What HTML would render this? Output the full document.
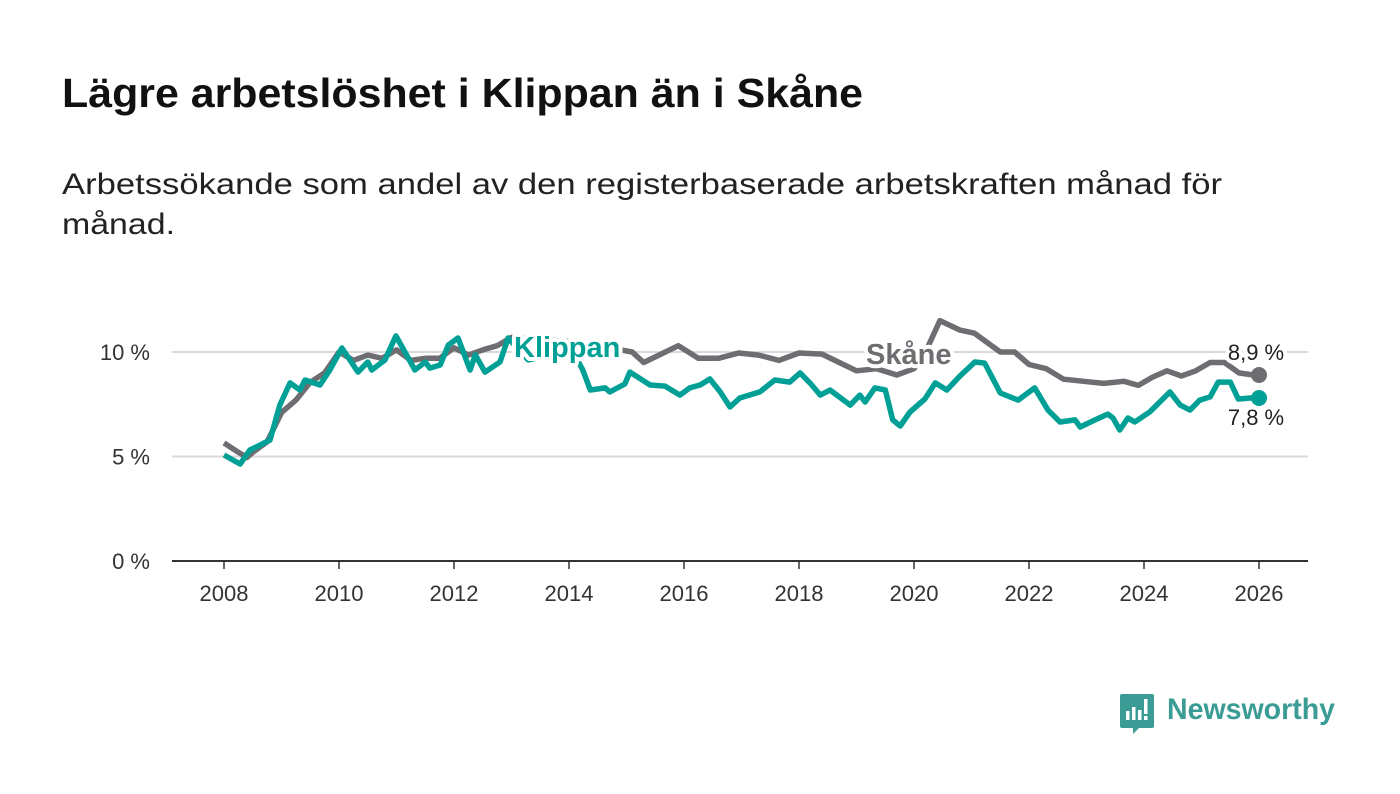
<!DOCTYPE html>
<html><head><meta charset="utf-8"><style>
html,body{margin:0;padding:0;background:#fff;}
svg{display:block;font-family:"Liberation Sans",sans-serif;}
</style></head><body>
<svg id="chart" width="1400" height="794" viewBox="0 0 1400 794">
<text x="62" y="107" font-size="41" font-weight="bold" fill="#111" textLength="801" lengthAdjust="spacingAndGlyphs">Lägre arbetslöshet i Klippan än i Skåne</text>
<text x="62" y="194" font-size="30" fill="#222" textLength="1160" lengthAdjust="spacingAndGlyphs">Arbetssökande som andel av den registerbaserade arbetskraften månad för</text>
<text x="62" y="234" font-size="30" fill="#222" textLength="113" lengthAdjust="spacingAndGlyphs">månad.</text>
<g id="grid"></g>
<g id="yticks"></g>
<g id="xticks"></g>
<g id="series"></g>
<g id="labels"></g>
<g>
<path d="M1122 694 h30 a2 2 0 0 1 2 2 v30 a2 2 0 0 1 -2 2 h-13 l-6 6 v-6 h-11 a2 2 0 0 1 -2 -2 v-30 a2 2 0 0 1 2 -2z" fill="#3a9c94"/>
<rect x="1126" y="711" width="3.5" height="9" fill="#fff"/><rect x="1132" y="707" width="3.5" height="13" fill="#fff"/><rect x="1138" y="710" width="3.5" height="10" fill="#fff"/><rect x="1144" y="699" width="3.5" height="15" fill="#fff"/><rect x="1144" y="716" width="3.5" height="4" fill="#fff"/>
<text x="1167" y="719" font-size="30" font-weight="bold" fill="#3a9c94" textLength="168" lengthAdjust="spacingAndGlyphs">Newsworthy</text>
</g>
</svg>
<script>
const yTicks=[0,5,10];
const yTickLabels=["0 %","5 %","10 %"];
const xTicks=[2008,2010,2012,2014,2016,2018,2020,2022,2024,2026];
const klippanYears=[2008.00,2008.28,2008.45,2008.63,2008.80,2008.97,2009.15,2009.32,2009.41,2009.67,2009.84,2010.05,2010.33,2010.50,2010.57,2010.80,2010.99,2011.32,2011.50,2011.58,2011.76,2011.90,2012.07,2012.28,2012.37,2012.54,2012.80,2012.94,2013.29,2013.67,2014.10,2014.24,2014.37,2014.63,2014.71,2014.97,2015.06,2015.41,2015.67,2015.93,2016.10,2016.28,2016.45,2016.63,2016.80,2016.97,2017.32,2017.58,2017.84,2018.02,2018.19,2018.37,2018.54,2018.89,2019.06,2019.15,2019.32,2019.50,2019.63,2019.76,2019.93,2020.19,2020.37,2020.57,2020.80,2021.06,2021.23,2021.50,2021.81,2022.10,2022.33,2022.54,2022.80,2022.89,2023.15,2023.37,2023.46,2023.58,2023.72,2023.84,2024.10,2024.45,2024.63,2024.80,2024.97,2025.15,2025.29,2025.50,2025.64,2025.85,2026.00];
const klippanValues=[5.07,4.64,5.31,5.55,5.79,7.46,8.52,8.18,8.66,8.42,9.14,10.19,9.04,9.52,9.14,9.62,10.77,9.14,9.52,9.23,9.38,10.33,10.67,9.14,9.86,9.04,9.52,10.67,9.62,9.86,9.86,9.14,8.18,8.28,8.09,8.47,9.04,8.42,8.37,7.94,8.28,8.42,8.71,8.09,7.37,7.80,8.09,8.66,8.56,9.00,8.52,7.94,8.18,7.46,7.94,7.61,8.28,8.18,6.75,6.46,7.13,7.75,8.52,8.18,8.85,9.52,9.47,8.04,7.70,8.28,7.22,6.65,6.75,6.41,6.75,7.03,6.84,6.27,6.84,6.65,7.13,8.09,7.46,7.22,7.70,7.85,8.56,8.56,7.75,7.80,7.8];
const skaneYears=[2008.00,2008.25,2008.40,2008.50,2008.75,2009.00,2009.25,2009.50,2009.75,2010.00,2010.25,2010.50,2010.75,2011.00,2011.25,2011.50,2011.75,2012.00,2012.25,2012.50,2012.75,2013.00,2013.50,2014.00,2014.50,2015.10,2015.30,2015.60,2015.90,2016.25,2016.60,2016.95,2017.30,2017.65,2018.00,2018.40,2018.70,2019.00,2019.35,2019.70,2020.00,2020.20,2020.45,2020.80,2021.05,2021.20,2021.50,2021.75,2022.00,2022.30,2022.60,2022.95,2023.30,2023.65,2023.90,2024.15,2024.40,2024.65,2024.90,2025.15,2025.40,2025.65,2025.90,2026.00];
const skaneValues=[5.65,5.2,4.95,5.2,5.7,7.1,7.7,8.55,9.0,10.0,9.6,9.85,9.7,10.1,9.6,9.7,9.7,10.2,9.85,10.1,10.3,10.7,10.6,10.5,10.3,10.0,9.5,9.9,10.3,9.7,9.7,9.95,9.85,9.6,9.95,9.9,9.5,9.1,9.2,8.9,9.2,10.0,11.5,11.05,10.9,10.6,10.0,10.0,9.4,9.2,8.7,8.6,8.5,8.6,8.4,8.8,9.1,8.85,9.1,9.5,9.5,9.0,8.9,8.9];
const lastLabels=["8,9 %","7,8 %"];
const NS="http://www.w3.org/2000/svg";
const x=v=>224+(v-2008)*(1259-224)/18;
const y=v=>561-v*20.9;
function mk(tag,attrs,parent){const e=document.createElementNS(NS,tag);for(const k in attrs)e.setAttribute(k,attrs[k]);parent.appendChild(e);return e;}
const grid=document.getElementById('grid'),yt=document.getElementById('yticks'),xt=document.getElementById('xticks'),ser=document.getElementById('series'),lab=document.getElementById('labels');
yTicks.forEach((t,i)=>{
 const l=mk('line',{x1:172,x2:1308,y1:y(t),y2:y(t),stroke:t===0?'#333':'#d9d9d9','stroke-width':2},grid);
 
 
 const tx=mk('text',{x:150,y:y(t)+8,'text-anchor':'end','font-size':22,fill:'#333'},yt);
 tx.textContent=yTickLabels[i];
 
 
});
xTicks.forEach(t=>{
 const l=mk('line',{x1:x(t),x2:x(t),y1:561,y2:569,stroke:'#333','stroke-width':1.5},xt);
 
 
 const tx=mk('text',{x:x(t),y:601,'text-anchor':'middle','font-size':22,fill:'#333'},xt);
 tx.textContent=t;
 
 
});
function pathD(xs,vs){return xs.map((v,i)=>(i?'L':'M')+x(v).toFixed(1)+' '+y(vs[i]).toFixed(1)).join(' ');}
const sk=mk('path',{d:pathD(skaneYears,skaneValues),fill:'none',stroke:'#6e6d72','stroke-width':5.5,'stroke-linejoin':'round'},ser);


const kl=mk('path',{d:pathD(klippanYears,klippanValues),fill:'none',stroke:'#00a096','stroke-width':5.5,'stroke-linejoin':'round'},ser);


const sd=mk('circle',{cx:x(skaneYears[skaneYears.length-1]),cy:y(skaneValues[skaneValues.length-1]),r:8,fill:'#6e6d72'},ser);


const kd=mk('circle',{cx:x(klippanYears[klippanYears.length-1]),cy:y(klippanValues[klippanValues.length-1]),r:8,fill:'#00a096'},ser);


function halo(txt,px,py,col,size,weight,anchor,name){
 const a=mk('text',{x:px,y:py,'font-size':size,'font-weight':weight,'text-anchor':anchor,fill:'#fff',stroke:'#fff','stroke-width':8,'stroke-linejoin':'round'},lab);
 a.textContent=txt;
 
 
 const b=mk('text',{x:px,y:py,'font-size':size,'font-weight':weight,'text-anchor':anchor,fill:col},lab);
 b.textContent=txt;
 
 
}
halo('Klippan',514,357,'#00a096',29,'bold','start','klippan-label');
halo('Skåne',866,364,'#6e6d72',29,'bold','start','skane-label');
halo(lastLabels[0],1256,360,'#222',22,'normal','middle','skane-end-value');
halo(lastLabels[1],1256,425,'#222',22,'normal','middle','klippan-end-value');
</script>
</body></html>
